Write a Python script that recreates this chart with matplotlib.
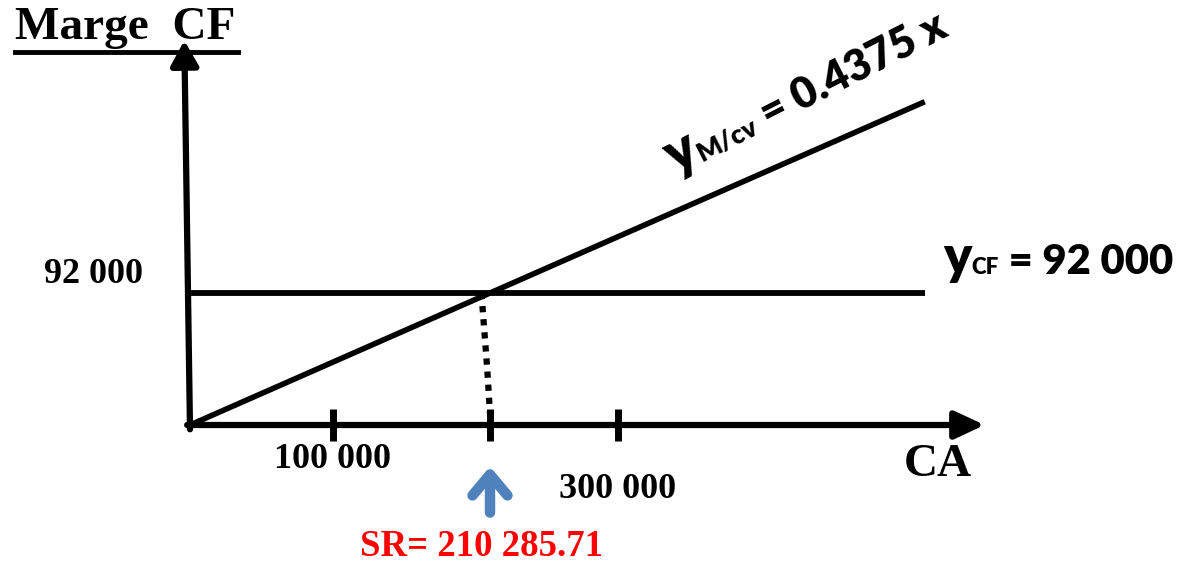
import numpy as np
import matplotlib
matplotlib.use("Agg")
import matplotlib.pyplot as plt
from matplotlib.patches import FancyArrowPatch

# break-even diagram values
cf = 92000            # fixed costs (y_CF)
mcv_rate = 0.4375     # margin on variable costs / CA
sr = 210285.71        # seuil de rentabilite
tick_values = [100000, sr, 300000]
tick_labels = ["100 000", "", "300 000"]
ca_max = 515000       # extent of the drawn lines
ca_axis_end = 557000
marge_axis_end = 268000

W, H = 1184, 563
fig = plt.figure(figsize=(W / 100, H / 100), dpi=100)
ax = fig.add_axes([0, 0, 1, 1])
ax.axis('off')

# pixel scale so origin lands near (190, 425) from top-left
ox, oy = 190, 425
kx = 300 / sr
ky = 132 / cf
ax.set_xlim(-ox / kx, (W - ox) / kx)
ax.set_ylim(-(H - oy) / ky, oy / ky)

serif = 'Liberation Serif'
sans = 'Lato'
renderer = fig.canvas.get_renderer()


def rich_text(x, y, parts, angle=0):
    """lay out (text, size) pieces on one baseline starting at data (x, y)"""
    th = np.deg2rad(angle)
    adv = 0.0
    for s, size in parts:
        t = ax.annotate(s, xy=(x, y), xytext=(adv * np.cos(th), adv * np.sin(th)),
                        textcoords='offset points', family=sans, weight='heavy',
                        fontsize=size, ha='left', va='baseline',
                        rotation=0, rotation_mode='anchor')
        w = t.get_window_extent(renderer).width * 72 / 100
        t.set_rotation(angle)
        adv += w


# axes with arrows
ax.annotate('', xy=(ca_axis_end, 0), xytext=(-2000, 0),
            arrowprops=dict(arrowstyle='-|>,head_length=0.9,head_width=0.42',
                            lw=4.5, color='black', mutation_scale=20,
                            shrinkA=0, shrinkB=0))
ax.annotate('', xy=(-4000, marge_axis_end), xytext=(0, -3000),
            arrowprops=dict(arrowstyle='-|>,head_length=0.75,head_width=0.42',
                            lw=4.5, color='black', mutation_scale=20,
                            shrinkA=0, shrinkB=0))

# fixed cost line and margin line
ca = np.array([0, ca_max])
ax.plot(ca, [cf, cf], color='black', lw=4.2, solid_capstyle='butt')
ax.plot(ca, mcv_rate * ca, color='black', lw=4, solid_capstyle='butt')

# dotted drop from break-even point
ax.plot([sr - 6000, sr - 2000, sr], [cf, 40000, 8000], color='black', lw=4.5,
        linestyle=(0, (1, 1.1)))

# ticks on CA axis
for t in tick_values:
    ax.plot([t, t], [-11000, 11000], color='black', lw=5, solid_capstyle='butt')

ax.text(tick_values[0], -24000, tick_labels[0], family=serif, weight='bold',
        fontsize=26, ha='center', va='center')
ax.text(tick_values[2], -45000, tick_labels[2], family=serif, weight='bold',
        fontsize=26, ha='center', va='center')

ax.text(-102000, 105000, "92 000", family=serif, weight='bold',
        fontsize=26, ha='left', va='center')

ax.text(500000, -28000, "CA", family=serif, weight='bold',
        fontsize=34, ha='left', va='center')

# title with underline
fig.text(15 / W, 1 - 28 / H, "Marge  CF", family=serif, weight='bold',
         fontsize=34, ha='left', va='center')
fig.add_artist(plt.Line2D([15 / W, 238 / W], [1 - 52 / H, 1 - 52 / H],
                          color='black', lw=3.5))

# break-even arrow and label
arr = FancyArrowPatch((sr, -63000), (sr, -27000),
                      arrowstyle='->,head_length=0.5,head_width=0.42',
                      mutation_scale=30, color='#4F81BD', lw=7.5,
                      capstyle='round', joinstyle='round')
ax.add_patch(arr)
ax.text(sr - 6000, -84500, "SR= 210 285.71", family=serif, weight='bold',
        fontsize=26.5, color='#FF0000', ha='center', va='center')

# equations
rich_text(528000, 105000, [("y", 38, ), ("CF", 16), (" = 92 000", 30)])
rich_text(340000, 174000, [("y", 40), ("M/cv", 19), (" = 0.4375 x", 31)],
          angle=27)

fig.savefig("out.png", dpi=100)
